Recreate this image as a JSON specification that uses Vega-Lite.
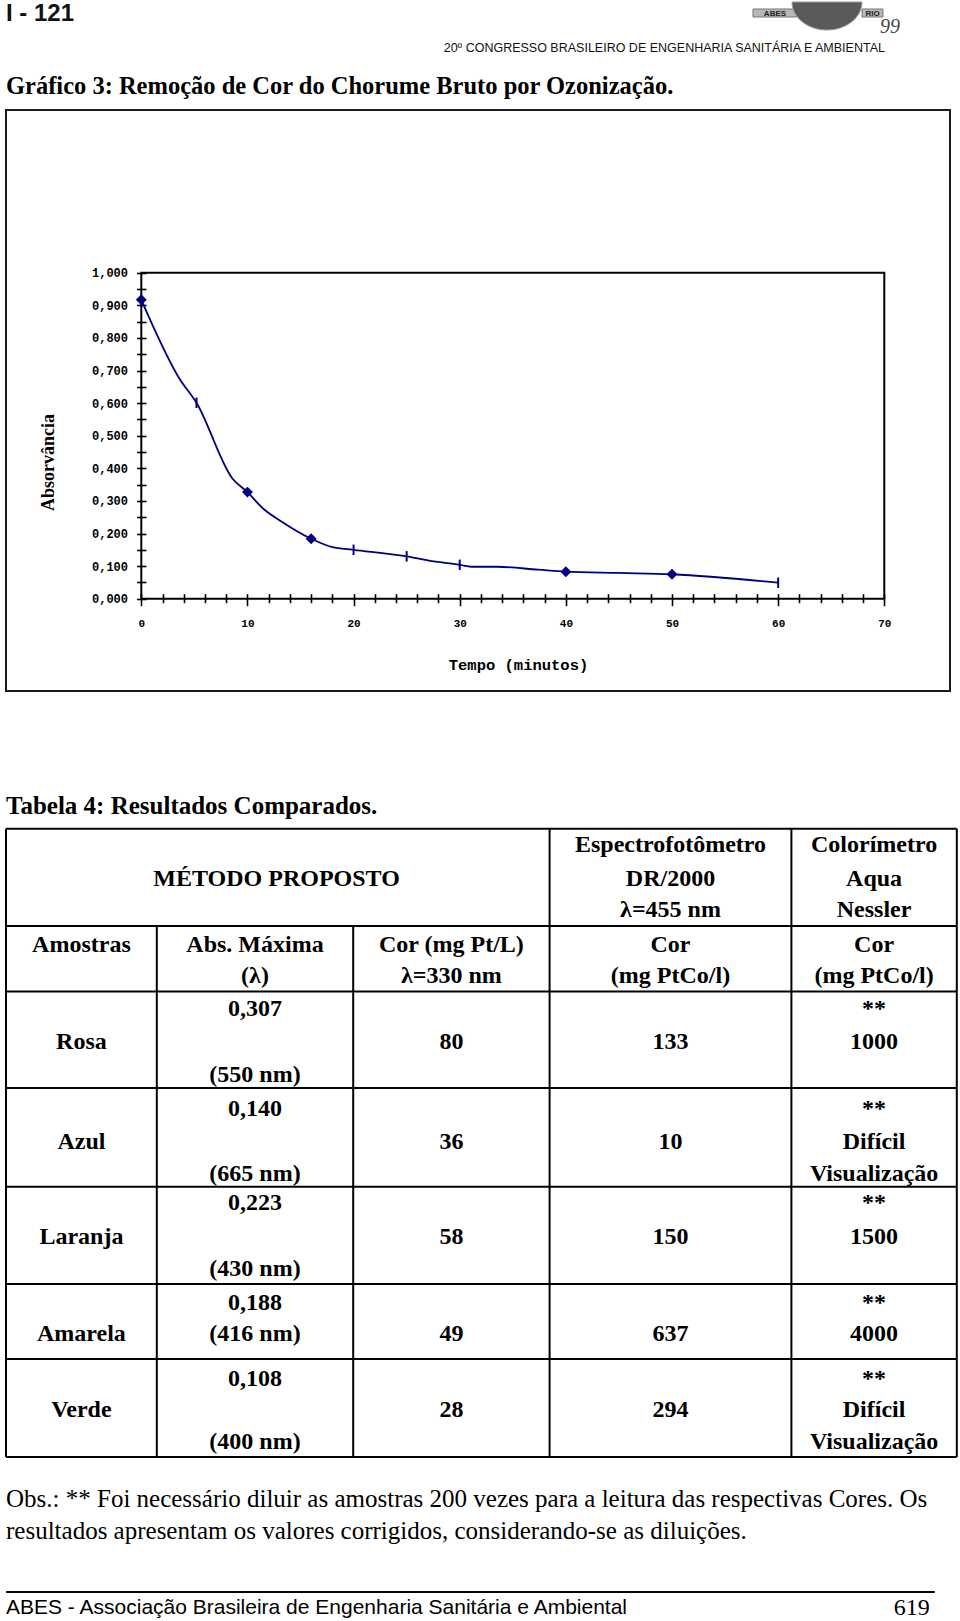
{
  "$schema": "https://vega.github.io/schema/vega-lite/v6.json",
  "background": "white",
  "padding": {"left": 5, "top": 0, "right": 0, "bottom": 0},
  "autosize": {"type": "pad"},
  "bounds": "flush",
  "spacing": 0,
  "config": {"view": {"stroke": null}, "font": "Liberation Serif"},
  "datasets": {
    "absorb": [
      {"t": 0, "a": 0.917, "m": "diamond"},
      {"t": 3.6, "a": 0.675, "m": "none"},
      {"t": 5.2, "a": 0.601, "m": "bar"},
      {"t": 8.6, "a": 0.368, "m": "none"},
      {"t": 10, "a": 0.327, "m": "diamond"},
      {"t": 11.5, "a": 0.276, "m": "none"},
      {"t": 13.2, "a": 0.237, "m": "none"},
      {"t": 16, "a": 0.184, "m": "diamond"},
      {"t": 18, "a": 0.158, "m": "none"},
      {"t": 20, "a": 0.15, "m": "bar"},
      {"t": 25, "a": 0.13, "m": "bar"},
      {"t": 27.1, "a": 0.117, "m": "none"},
      {"t": 30, "a": 0.104, "m": "bar"},
      {"t": 31.1, "a": 0.098, "m": "none"},
      {"t": 33.5, "a": 0.098, "m": "none"},
      {"t": 37.4, "a": 0.089, "m": "none"},
      {"t": 40, "a": 0.083, "m": "diamond"},
      {"t": 45, "a": 0.079, "m": "none"},
      {"t": 50, "a": 0.075, "m": "diamond"},
      {"t": 60, "a": 0.049, "m": "bar"}
    ],
    "cells": [
      {"col": 1.11, "line": 1.51, "text": "MÉTODO PROPOSTO"},
      {"col": 3, "line": 0.5, "text": "Espectrofotômetro"},
      {"col": 3, "line": 1.51, "text": "DR/2000"},
      {"col": 3, "line": 2.47, "text": "λ=455 nm"},
      {"col": 4, "line": 0.5, "text": "Colorímetro"},
      {"col": 4, "line": 1.51, "text": "Aqua"},
      {"col": 4, "line": 2.47, "text": "Nessler"},
      {"col": 0, "line": 3.53, "text": "Amostras"},
      {"col": 1, "line": 3.53, "text": "Abs. Máxima"},
      {"col": 1, "line": 4.45, "text": "(λ)"},
      {"col": 2, "line": 3.53, "text": "Cor (mg Pt/L)"},
      {"col": 2, "line": 4.45, "text": "λ=330 nm"},
      {"col": 3, "line": 3.53, "text": "Cor"},
      {"col": 3, "line": 4.45, "text": "(mg PtCo/l)"},
      {"col": 4, "line": 3.53, "text": "Cor"},
      {"col": 4, "line": 4.45, "text": "(mg PtCo/l)"},
      {"col": 0, "line": 6.45, "text": "Rosa"},
      {"col": 1, "line": 5.44, "text": "0,307"},
      {"col": 1, "line": 7.46, "text": "(550 nm)"},
      {"col": 2, "line": 6.45, "text": "80"},
      {"col": 3, "line": 6.45, "text": "133"},
      {"col": 4, "line": 5.44, "text": "**"},
      {"col": 4, "line": 6.45, "text": "1000"},
      {"col": 0, "line": 9.47, "text": "Azul"},
      {"col": 1, "line": 8.47, "text": "0,140"},
      {"col": 1, "line": 10.43, "text": "(665 nm)"},
      {"col": 2, "line": 9.47, "text": "36"},
      {"col": 3, "line": 9.47, "text": "10"},
      {"col": 4, "line": 8.47, "text": "**"},
      {"col": 4, "line": 9.47, "text": "Difícil"},
      {"col": 4, "line": 10.43, "text": "Visualização"},
      {"col": 0, "line": 12.35, "text": "Laranja"},
      {"col": 1, "line": 11.32, "text": "0,223"},
      {"col": 1, "line": 13.3, "text": "(430 nm)"},
      {"col": 2, "line": 12.35, "text": "58"},
      {"col": 3, "line": 12.35, "text": "150"},
      {"col": 4, "line": 11.32, "text": "**"},
      {"col": 4, "line": 12.35, "text": "1500"},
      {"col": 0, "line": 15.27, "text": "Amarela"},
      {"col": 1, "line": 14.33, "text": "0,188"},
      {"col": 1, "line": 15.27, "text": "(416 nm)"},
      {"col": 2, "line": 15.27, "text": "49"},
      {"col": 3, "line": 15.27, "text": "637"},
      {"col": 4, "line": 14.33, "text": "**"},
      {"col": 4, "line": 15.27, "text": "4000"},
      {"col": 0, "line": 17.59, "text": "Verde"},
      {"col": 1, "line": 16.63, "text": "0,108"},
      {"col": 1, "line": 18.54, "text": "(400 nm)"},
      {"col": 2, "line": 17.59, "text": "28"},
      {"col": 3, "line": 17.59, "text": "294"},
      {"col": 4, "line": 16.63, "text": "**"},
      {"col": 4, "line": 17.59, "text": "Difícil"},
      {"col": 4, "line": 18.54, "text": "Visualização"}
    ],
    "hrules": [
      {"line": 0, "c1": -0.5, "c2": 4.5},
      {"line": 2.94, "c1": -0.5, "c2": 4.5},
      {"line": 4.92, "c1": -0.5, "c2": 4.5},
      {"line": 7.84, "c1": -0.5, "c2": 4.5},
      {"line": 10.83, "c1": -0.5, "c2": 4.5},
      {"line": 13.77, "c1": -0.5, "c2": 4.5},
      {"line": 16.04, "c1": -0.5, "c2": 4.5},
      {"line": 19, "c1": -0.5, "c2": 4.5}
    ],
    "vrules": [
      {"col": -0.5, "l1": 0, "l2": 19},
      {"col": 0.5, "l1": 2.94, "l2": 19},
      {"col": 1.5, "l1": 2.94, "l2": 19},
      {"col": 2.5, "l1": 0, "l2": 19},
      {"col": 3.5, "l1": 0, "l2": 19},
      {"col": 4.5, "l1": 0, "l2": 19}
    ],
    "notes": [
      {"kind": "tabtitle", "col": -0.5, "line": -0.7, "text": "Tabela 4: Resultados Comparados."},
      {"kind": "obs", "col": -0.5, "line": 20.27, "text": "Obs.: ** Foi necessário diluir as amostras 200 vezes para a leitura das respectivas Cores. Os"},
      {"kind": "obs", "col": -0.5, "line": 21.24, "text": "resultados apresentam os valores corrigidos, considerando-se as diluições."},
      {"kind": "footleft", "col": -0.5, "line": 23.56, "text": "ABES - Associação Brasileira de Engenharia Sanitária e Ambiental"},
      {"kind": "footright", "col": 4.337, "line": 23.56, "text": "619"}
    ]
  },
  "vconcat": [
    {
      "width": 944,
      "height": 108,
      "layer": [
        {
          "data": {"values": [{}]},
          "mark": {"type": "text", "text": "I - 121", "align": "left", "baseline": "alphabetic", "font": "Liberation Sans", "fontSize": 24, "fontWeight": "bold", "color": "#111"},
          "encoding": {
            "x": {"datum": 0, "type": "quantitative", "scale": {"domain": [0, 1], "nice": false, "zero": false}, "axis": null},
            "y": {"datum": 0.176, "type": "quantitative", "scale": {"domain": [0, 1], "nice": false, "zero": false, "reverse": true}, "axis": null}
          }
        },
        {
          "data": {"values": [{}]},
          "mark": {"type": "text", "text": "20º CONGRESSO BRASILEIRO DE ENGENHARIA SANITÁRIA E AMBIENTAL", "align": "right", "baseline": "alphabetic", "font": "Liberation Sans", "fontSize": 12.5, "color": "#111"},
          "encoding": {
            "x": {"datum": 0.9311, "type": "quantitative", "scale": {"domain": [0, 1], "nice": false, "zero": false}, "axis": null},
            "y": {"datum": 0.463, "type": "quantitative", "scale": {"domain": [0, 1], "nice": false, "zero": false, "reverse": true}, "axis": null}
          }
        },
        {
          "data": {"values": [{}]},
          "mark": {"type": "rect", "fill": "#b8b8b8", "stroke": "#777", "strokeWidth": 1},
          "encoding": {
            "x": {"datum": 0.7913, "type": "quantitative", "scale": {"domain": [0, 1], "nice": false, "zero": false}, "axis": null},
            "x2": {"datum": 0.8379},
            "y": {"datum": 0.0648, "type": "quantitative", "scale": {"domain": [0, 1], "nice": false, "zero": false, "reverse": true}, "axis": null},
            "y2": {"datum": 0.1389}
          }
        },
        {
          "data": {"values": [{}]},
          "mark": {"type": "rect", "fill": "#b8b8b8", "stroke": "#777", "strokeWidth": 1},
          "encoding": {
            "x": {"datum": 0.9068, "type": "quantitative", "scale": {"domain": [0, 1], "nice": false, "zero": false}, "axis": null},
            "x2": {"datum": 0.929},
            "y": {"datum": 0.0648, "type": "quantitative", "scale": {"domain": [0, 1], "nice": false, "zero": false, "reverse": true}, "axis": null},
            "y2": {"datum": 0.1389}
          }
        },
        {
          "data": {"values": [{}]},
          "mark": {"type": "point", "shape": "M-1,0 A1,0.8 0 0 0 1,0 Z", "filled": true, "fill": "#5a5a5a", "stroke": "#999", "strokeWidth": 1, "opacity": 1, "size": 4900},
          "encoding": {
            "x": {"datum": 0.8697, "type": "quantitative", "scale": {"domain": [0, 1], "nice": false, "zero": false}, "axis": null},
            "y": {"datum": 0.0, "type": "quantitative", "scale": {"domain": [0, 1], "nice": false, "zero": false, "reverse": true}, "axis": null}
          }
        },
        {
          "data": {"values": [{}]},
          "mark": {"type": "text", "text": "ABES", "align": "center", "baseline": "middle", "font": "Liberation Sans", "fontSize": 8, "fontWeight": "bold", "color": "#222"},
          "encoding": {
            "x": {"datum": 0.8146, "type": "quantitative", "scale": {"domain": [0, 1], "nice": false, "zero": false}, "axis": null},
            "y": {"datum": 0.1065, "type": "quantitative", "scale": {"domain": [0, 1], "nice": false, "zero": false, "reverse": true}, "axis": null}
          }
        },
        {
          "data": {"values": [{}]},
          "mark": {"type": "text", "text": "RIO", "align": "center", "baseline": "middle", "font": "Liberation Sans", "fontSize": 8, "fontWeight": "bold", "color": "#222"},
          "encoding": {
            "x": {"datum": 0.9179, "type": "quantitative", "scale": {"domain": [0, 1], "nice": false, "zero": false}, "axis": null},
            "y": {"datum": 0.1065, "type": "quantitative", "scale": {"domain": [0, 1], "nice": false, "zero": false, "reverse": true}, "axis": null}
          }
        },
        {
          "data": {"values": [{}]},
          "mark": {"type": "text", "text": "99", "align": "center", "baseline": "middle", "font": "Liberation Serif", "fontSize": 20, "fontStyle": "italic", "color": "#444"},
          "encoding": {
            "x": {"datum": 0.9364, "type": "quantitative", "scale": {"domain": [0, 1], "nice": false, "zero": false}, "axis": null},
            "y": {"datum": 0.2315, "type": "quantitative", "scale": {"domain": [0, 1], "nice": false, "zero": false, "reverse": true}, "axis": null}
          }
        }
      ]
    },
    {
      "width": 944,
      "height": 581,
      "view": {"stroke": "#1a1a1a", "strokeWidth": 2},
      "title": {"text": "Gráfico 3: Remoção de Cor do Chorume Bruto por Ozonização.", "anchor": "start", "frame": "group", "orient": "top", "offset": -8, "baseline": "alphabetic", "font": "Liberation Serif", "fontSize": 24.5, "fontWeight": "bold", "color": "#000"},
      "data": {"name": "absorb"},
      "layer": [
        {
          "mark": {"type": "line", "interpolate": "monotone", "color": "#000080", "strokeWidth": 1.8},
          "encoding": {
            "x": {
              "field": "t", "type": "quantitative",
              "scale": {"domain": [-12.747, 76.19], "nice": false, "zero": false},
              "axis": {
                "values": [0, 2, 4, 6, 8, 10, 12, 14, 16, 18, 20, 22, 24, 26, 28, 30, 32, 34, 36, 38, 40, 42, 44, 46, 48, 50, 52, 54, 56, 58, 60, 62, 64, 66, 68, 70],
                "tickCount": 200,
                "labelExpr": "round(datum.value) % 10 === 0 ? format(datum.value, 'd') : ''",
                "offset": -97.3,
                "domain": false,
                "grid": false,
                "ticks": true,
                "tickColor": "#000",
                "tickWidth": 1.6,
                "tickSize": {"condition": {"test": "round(datum.value) % 10 === 0", "value": 12}, "value": 9},
                "labelPadding": 12,
                "labelFont": "Liberation Mono",
                "labelFontWeight": "bold",
                "labelFontSize": 11,
                "labelColor": "#000",
                "labelOverlap": false,
                "labelFlush": false,
                "labelBound": false,
                "title": "Tempo (minutos)",
                "titleFont": "Liberation Mono",
                "titleFontWeight": "bold",
                "titleFontSize": 15.5,
                "titleColor": "#000",
                "titleX": 512,
                "titleY": 71,
                "titleAlign": "center",
                "titleBaseline": "middle"
              }
            },
            "y": {
              "field": "a", "type": "quantitative",
              "scale": {"domain": [-0.2831, 1.4991], "nice": false, "zero": false},
              "axis": {
                "values": [0, 0.05, 0.1, 0.15, 0.2, 0.25, 0.3, 0.35, 0.4, 0.45, 0.5, 0.55, 0.6, 0.65, 0.7, 0.75, 0.8, 0.85, 0.9, 0.95, 1],
                "tickCount": 200,
                "labelExpr": "round(datum.value * 20) % 2 === 0 ? replace(format(datum.value, '.3f'), '.', ',') : ''",
                "offset": -140,
                "domain": false,
                "grid": false,
                "ticks": true,
                "tickColor": "#000",
                "tickWidth": 1.6,
                "tickSize": 9.5,
                "labelPadding": 9,
                "labelFont": "Liberation Mono",
                "labelFontWeight": "bold",
                "labelFontSize": 12,
                "labelColor": "#000",
                "labelOverlap": false,
                "labelFlush": false,
                "labelBound": false,
                "title": "Absorvância",
                "titleFont": "Liberation Serif",
                "titleFontWeight": "bold",
                "titleFontSize": 18,
                "titleColor": "#000",
                "titleX": -98,
                "titleY": 352,
                "titleAngle": -90,
                "titleAlign": "center",
                "titleBaseline": "middle"
              }
            }
          }
        },
        {
          "data": {"values": [{}]},
          "mark": {"type": "rect", "fill": null, "stroke": "#000", "strokeWidth": 2},
          "encoding": {
            "x": {"datum": 0, "type": "quantitative", "scale": {"domain": [-12.747, 76.19], "nice": false, "zero": false}},
            "x2": {"datum": 70},
            "y": {"datum": 0, "type": "quantitative", "scale": {"domain": [-0.2831, 1.4991], "nice": false, "zero": false}},
            "y2": {"datum": 1}
          }
        },
        {
          "transform": [{"filter": "datum.m === 'diamond'"}],
          "mark": {"type": "point", "shape": "diamond", "filled": true, "color": "#000080", "size": 120, "opacity": 1},
          "encoding": {
            "x": {"field": "t", "type": "quantitative", "scale": {"domain": [-12.747, 76.19], "nice": false, "zero": false}},
            "y": {"field": "a", "type": "quantitative", "scale": {"domain": [-0.2831, 1.4991], "nice": false, "zero": false}}
          }
        },
        {
          "transform": [{"filter": "datum.m === 'bar'"}],
          "mark": {"type": "point", "shape": "M0,-1L0,1", "filled": false, "color": "#000080", "strokeWidth": 2, "size": 110, "opacity": 1},
          "encoding": {
            "x": {"field": "t", "type": "quantitative", "scale": {"domain": [-12.747, 76.19], "nice": false, "zero": false}},
            "y": {"field": "a", "type": "quantitative", "scale": {"domain": [-0.2831, 1.4991], "nice": false, "zero": false}}
          }
        }
      ]
    },
    {
      "width": 950.8,
      "height": 932,
      "layer": [
        {
          "data": {"name": "hrules"},
          "mark": {"type": "rule", "color": "#000", "strokeWidth": 2},
          "encoding": {
            "x": {"field": "c1", "type": "quantitative", "scale": {"domain": [-0.5, 0.5, 1.5, 2.5, 3.5, 4.5], "range": [0, 150.8, 347.2, 543.6, 785.4, 950.8], "nice": false, "zero": false}, "axis": null},
            "x2": {"field": "c2"},
            "y": {"field": "line", "type": "quantitative", "scale": {"domain": [-4.164, 24.02], "nice": false, "zero": false, "reverse": true}, "axis": null}
          }
        },
        {
          "data": {"name": "vrules"},
          "mark": {"type": "rule", "color": "#000", "strokeWidth": 2},
          "encoding": {
            "x": {"field": "col", "type": "quantitative", "scale": {"domain": [-0.5, 0.5, 1.5, 2.5, 3.5, 4.5], "range": [0, 150.8, 347.2, 543.6, 785.4, 950.8], "nice": false, "zero": false}, "axis": null},
            "y": {"field": "l1", "type": "quantitative", "scale": {"domain": [-4.164, 24.02], "nice": false, "zero": false, "reverse": true}, "axis": null},
            "y2": {"field": "l2"}
          }
        },
        {
          "data": {"name": "cells"},
          "mark": {"type": "text", "align": "center", "baseline": "middle", "font": "Liberation Serif", "fontSize": 24, "fontWeight": "bold", "color": "#000"},
          "encoding": {
            "x": {"field": "col", "type": "quantitative", "scale": {"domain": [-0.5, 0.5, 1.5, 2.5, 3.5, 4.5], "range": [0, 150.8, 347.2, 543.6, 785.4, 950.8], "nice": false, "zero": false}, "axis": null},
            "y": {"field": "line", "type": "quantitative", "scale": {"domain": [-4.164, 24.02], "nice": false, "zero": false, "reverse": true}, "axis": null},
            "text": {"field": "text"}
          }
        },
        {
          "data": {"name": "notes"},
          "transform": [{"filter": "datum.kind === 'tabtitle'"}],
          "mark": {"type": "text", "align": "left", "baseline": "middle", "font": "Liberation Serif", "fontSize": 25, "fontWeight": "bold", "color": "#000"},
          "encoding": {
            "x": {"field": "col", "type": "quantitative", "scale": {"domain": [-0.5, 0.5, 1.5, 2.5, 3.5, 4.5], "range": [0, 150.8, 347.2, 543.6, 785.4, 950.8], "nice": false, "zero": false}, "axis": null},
            "y": {"field": "line", "type": "quantitative", "scale": {"domain": [-4.164, 24.02], "nice": false, "zero": false, "reverse": true}, "axis": null},
            "text": {"field": "text"}
          }
        },
        {
          "data": {"name": "notes"},
          "transform": [{"filter": "datum.kind === 'obs'"}],
          "mark": {"type": "text", "align": "left", "baseline": "middle", "font": "Liberation Serif", "fontSize": 25, "color": "#000"},
          "encoding": {
            "x": {"field": "col", "type": "quantitative", "scale": {"domain": [-0.5, 0.5, 1.5, 2.5, 3.5, 4.5], "range": [0, 150.8, 347.2, 543.6, 785.4, 950.8], "nice": false, "zero": false}, "axis": null},
            "y": {"field": "line", "type": "quantitative", "scale": {"domain": [-4.164, 24.02], "nice": false, "zero": false, "reverse": true}, "axis": null},
            "text": {"field": "text"}
          }
        },
        {
          "data": {"values": [{}]},
          "mark": {"type": "rule", "color": "#000", "strokeWidth": 2},
          "encoding": {
            "x": {"datum": -0.5, "type": "quantitative", "scale": {"domain": [-0.5, 0.5, 1.5, 2.5, 3.5, 4.5], "range": [0, 150.8, 347.2, 543.6, 785.4, 950.8], "nice": false, "zero": false}, "axis": null},
            "x2": {"datum": 4.367},
            "y": {"datum": 23.08, "type": "quantitative", "scale": {"domain": [-4.164, 24.02], "nice": false, "zero": false, "reverse": true}, "axis": null}
          }
        },
        {
          "data": {"name": "notes"},
          "transform": [{"filter": "datum.kind === 'footleft'"}],
          "mark": {"type": "text", "align": "left", "baseline": "middle", "font": "Liberation Sans", "fontSize": 21, "color": "#000"},
          "encoding": {
            "x": {"field": "col", "type": "quantitative", "scale": {"domain": [-0.5, 0.5, 1.5, 2.5, 3.5, 4.5], "range": [0, 150.8, 347.2, 543.6, 785.4, 950.8], "nice": false, "zero": false}, "axis": null},
            "y": {"field": "line", "type": "quantitative", "scale": {"domain": [-4.164, 24.02], "nice": false, "zero": false, "reverse": true}, "axis": null},
            "text": {"field": "text"}
          }
        },
        {
          "data": {"name": "notes"},
          "transform": [{"filter": "datum.kind === 'footright'"}],
          "mark": {"type": "text", "align": "right", "baseline": "middle", "font": "Liberation Serif", "fontSize": 24, "color": "#000"},
          "encoding": {
            "x": {"field": "col", "type": "quantitative", "scale": {"domain": [-0.5, 0.5, 1.5, 2.5, 3.5, 4.5], "range": [0, 150.8, 347.2, 543.6, 785.4, 950.8], "nice": false, "zero": false}, "axis": null},
            "y": {"field": "line", "type": "quantitative", "scale": {"domain": [-4.164, 24.02], "nice": false, "zero": false, "reverse": true}, "axis": null},
            "text": {"field": "text"}
          }
        }
      ]
    }
  ]
}
